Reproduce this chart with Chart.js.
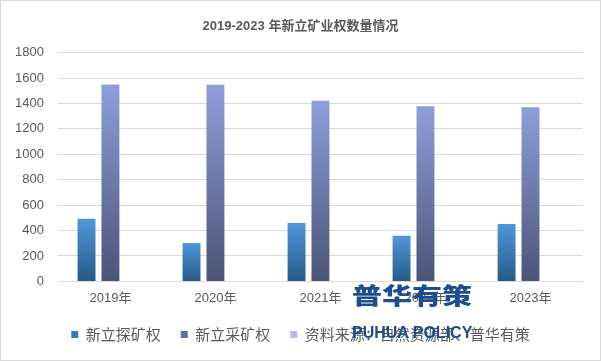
<!DOCTYPE html>
<html>
<head>
<meta charset="utf-8">
<script src="https://cdn.jsdelivr.net/npm/chart.js@4.4.1/dist/chart.umd.min.js"></script>
<style>
html,body{margin:0;padding:0;background:#fff;}
#wrap{position:relative;width:601px;height:361px;box-sizing:border-box;border:1px solid #d9d9d9;}
canvas{display:block;}
.wm1{position:absolute;left:351px;top:282px;font-family:"Noto Sans CJK SC";font-weight:900;font-size:30px;color:#1d4d8c;line-height:30px;transform:scaleY(0.76);transform-origin:0 0;white-space:nowrap;}
.wm2{position:absolute;left:351px;top:324px;font-family:"Liberation Sans";font-weight:bold;font-size:16px;color:#1d4d8c;line-height:16px;white-space:nowrap;}
</style>
</head>
<body>
<div id="wrap">
<canvas id="c" width="599" height="359"></canvas>
<div class="wm1">普华有策</div>
<div class="wm2">PUHUA POLICY</div>
</div>
<script>
const categories = ['2019年','2020年','2021年','2022年','2023年'];
const exploration = [492, 303, 460, 359, 452];
const mining = [1550, 1547, 1422, 1377, 1370];
const sourceSeries = [null, null, null, null, null];
const seriesNames = ['新立探矿权','新立采矿权','资料来源：自然资源部、普华有策'];
const titleText = '2019-2023 年新立矿业权数量情况';
const yTicks = {min:0, max:1800, step:200};

function grad(top, bottom){
  return function(ctx){
    const chart = ctx.chart;
    const area = chart.chartArea;
    if(!area) return top;
    if(ctx.type !== 'data') return top;
    const ys = chart.scales.y;
    const v = ctx.raw;
    if(v == null) return top;
    const y0 = ys.getPixelForValue(v);
    const y1 = ys.getPixelForValue(0);
    const g = chart.ctx.createLinearGradient(0, y0, 0, y1);
    g.addColorStop(0, top);
    g.addColorStop(1, bottom);
    return g;
  };
}
const font = '"Liberation Sans","Noto Sans CJK SC",sans-serif';
new Chart(document.getElementById('c'), {
  type:'bar',
  data:{
    labels: categories,
    datasets:[
      {label:seriesNames[0], data:exploration, backgroundColor:grad('#4f97dc','#275a87'), categoryPercentage:0.683, barPercentage:0.75},
      {label:seriesNames[1], data:mining, backgroundColor:grad('#8c9fd9','#4c5478'), categoryPercentage:0.683, barPercentage:0.75},
      {label:seriesNames[2], data:sourceSeries, backgroundColor:'#aab6de', categoryPercentage:0.683, barPercentage:0.75}
    ]
  },
  options:{
    responsive:false,
    animation:false,
    devicePixelRatio:1,
    layout:{padding:{left:0,right:0,top:6,bottom:8}},
    plugins:{
      title:{display:true,text:titleText,color:'#595959',font:{family:font,size:13,weight:'bold'},padding:{top:12,bottom:18}},
      legend:{position:'bottom',labels:{
        boxWidth:7,boxHeight:7,color:'#595959',padding:20,
        font:{family:'"Noto Sans CJK SC",sans-serif',size:15},
        generateLabels(chart){
          const cols=['#3a78b8','#636f9e','#b4bfe2'];
          return chart.data.datasets.map((d,i)=>({text:d.label,fillStyle:cols[i],strokeStyle:cols[i],lineWidth:0,datasetIndex:i,fontColor:'#595959'}));
        }
      }},
      tooltip:{enabled:false}
    },
    scales:{
      x:{grid:{display:false},border:{display:false},ticks:{color:'#595959',font:{family:font,size:13},padding:1}},
      y:{min:yTicks.min,max:yTicks.max,ticks:{stepSize:yTicks.step,color:'#595959',font:{family:font,size:13},padding:14,
           callback:(v)=>String(v)},
         grid:{color:'#d9d9d9',drawTicks:false},border:{display:false}},
      yr:{position:'right',display:true,grid:{display:false},border:{display:false},ticks:{display:false},
         afterFit:(a)=>{a.width = 17;}}
    }
  }
});
</script>
</body>
</html>
